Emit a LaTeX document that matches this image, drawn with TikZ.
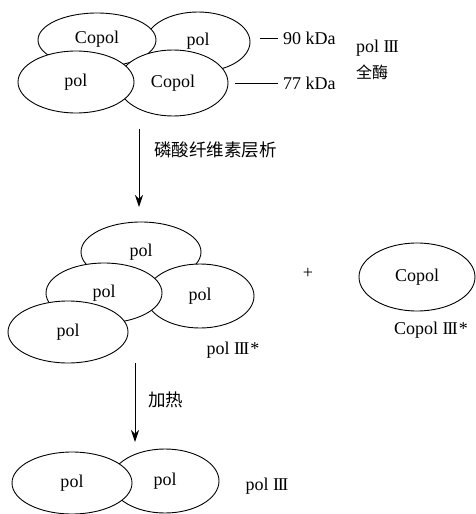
\documentclass[tikz,border=0pt]{standalone}
\usepackage{fontspec}
\setmainfont{Liberation Serif}
\newfontfamily\cjk{Noto Sans CJK SC}
\usetikzlibrary{arrows.meta,shapes.geometric}
\newcommand{\rmiii}{I\kern-0.08emI\kern-0.08emI}
\begin{document}
\begin{tikzpicture}[x=1pt,y=-1pt,
  ell/.style={draw, ellipse, fill=white, line width=0.9pt, inner sep=0pt, font=\fontsize{18}{20}\selectfont},
  lab/.style={inner sep=0pt, font=\fontsize{18}{20}\selectfont},
  cjklab/.style={inner sep=0pt, font=\cjk\fontsize{17.5}{20}\selectfont},
  tick/.style={line width=0.8pt},
  flow/.style={line width=0.8pt, -{Stealth[length=12pt,width=8pt]}}]
\useasboundingbox (0,0) rectangle (476,514);
% top group
\node[ell, minimum width=104pt, minimum height=60pt] (tr) at (198,42) {\raisebox{5pt}{pol}};
\node[ell, minimum width=118pt, minimum height=54pt] (tl) at (97,40) {\raisebox{5pt}{Copol}};
\node[ell, minimum width=110pt, minimum height=66pt] (br) at (173,83) {Copol};
\node[ell, minimum width=116pt, minimum height=62pt] (bl) at (76,82) {pol};
\node[lab, anchor=west] (k90) at (283,38) {90 kDa};
\node[lab, anchor=west] (k77) at (283,83) {77 kDa};
\coordinate (c90) at (260,38);
\coordinate (c77) at (235,83);
\draw[tick] (c90) -- ([xshift=-5pt]k90.west);
\draw[tick] (c77) -- ([xshift=-5pt]k77.west);
\node[lab, anchor=west] (holo) at (356,48) {pol \rmiii};
\node[inner sep=0pt, anchor=west, font=\cjk\fontsize{16}{18}\selectfont] (quanmei) at (356,72) {全酶};
% arrow 1
\coordinate (a1s) at (139,129);
\coordinate (a1e) at (139,207);
\draw[flow] (a1s) -- (a1e);
\node[cjklab, anchor=west] (chrom) at (154,150) {磷酸纤维素层析};
% middle group
\node[ell, minimum width=120pt, minimum height=60pt] (mt) at (141,252) {\raisebox{3pt}{pol}};
\node[ell, minimum width=108pt, minimum height=64pt] (mr) at (200,296) {pol};
\node[ell, minimum width=116pt, minimum height=60pt] (ml) at (104,293) {\raisebox{4pt}{pol}};
\node[ell, minimum width=120pt, minimum height=62pt] (mb) at (68,332) {\raisebox{3pt}{pol}};
\node[lab] (pstar) at (233,350) {pol \rmiii\kern1pt*};
\node[lab] (plus) at (308,273) {+};
\node[ell, minimum width=116pt, minimum height=68pt] (cop) at (417,277) {Copol};
\node[lab] (cstar) at (431,330) {Copol \rmiii\kern1pt*};
% arrow 2
\coordinate (a2s) at (135,363);
\coordinate (a2e) at (135,442);
\draw[flow] (a2s) -- (a2e);
\node[cjklab, anchor=west] (heat) at (148,400) {加热};
% bottom group
\node[ell, minimum width=108pt, minimum height=64pt] (br2) at (165,481) {pol};
\node[ell, minimum width=120pt, minimum height=62pt] (bl2) at (72,483) {pol};
\node[lab] (pol3) at (267,486) {pol \rmiii};
\end{tikzpicture}
\end{document}
